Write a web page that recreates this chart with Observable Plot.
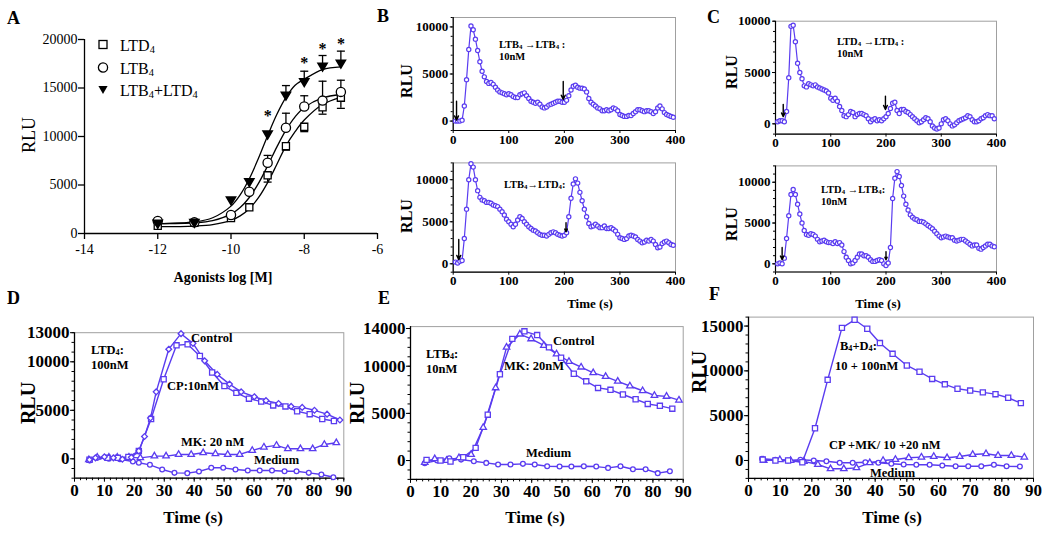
<!DOCTYPE html>
<html><head><meta charset="utf-8">
<script src="https://cdn.jsdelivr.net/npm/d3@7"></script>
<script src="https://cdn.jsdelivr.net/npm/@observablehq/plot@0.6"></script>
<style>
body{margin:0;background:#fff;}
#root{position:relative;width:1050px;height:533px;overflow:hidden;background:#fff;}
.lbl{position:absolute;white-space:nowrap;line-height:1;color:#000;}
.lbl sub{font-size:65%;vertical-align:-0.2em;line-height:0;}
</style></head><body><div id="root"></div>
<script>
// ---------- Panel A data ----------
const doseX = [-12, -11, -10, -9.5, -9, -8.5, -8, -7.5, -7];
const ltd4 = [800, 1100, 1600, 2700, 6000, 9000, 11000, 13000, 14000];
const ltd4ErrDown = [0, 0, 0, 0, 700, 400, 500, 700, 1100];
const ltb4 = [1300, 1150, 1900, 4300, 7300, 10900, 13100, 13700, 14600];
const ltb4ErrUp = [0, 0, 0, 0, 750, 1500, 1100, 2000, 1200];
const combo = [1000, 1100, 3400, 5300, 10200, 14200, 15600, 17200, 17500];
const comboErrUp = [0, 0, 0, 0, 0, 1050, 1130, 1150, 1300];
const fitX = [-12, -11, -10.5, -10, -9.75, -9.5, -9.25, -9, -8.75, -8.5, -8.25, -8, -7.5, -7];
const fitLTD4 = [707, 768, 912, 1349, 1813, 2560, 3689, 5241, 7109, 9038, 10500, 11700, 13300, 14033];
const fitLTB4 = [1011, 1106, 1331, 1993, 2671, 3711, 5168, 6976, 8904, 10657, 12029, 12990, 13983, 14332];
const fitCombo = [1020, 1203, 1624, 2823, 3980, 5644, 7755, 10086, 12265, 14030, 15285, 15900, 16900, 17172];
const starX = [-9, -8, -7.5, -7];
const starY = [12600, 18100, 19600, 20100];
const aXTicks = [-14, -12, -10, -8, -6];
const aYTicks = [0, 5000, 10000, 15000, 20000];

// ---------- Panels B, C (time traces) ----------
const traceTime = [4,8,12,16,20,24,28,32,36,40,44,48,52,56,60,64,68,72,76,80,84,88,92,96,100,104,108,112,116,120,124,128,132,136,140,144,148,152,156,160,164,168,172,176,180,184,188,192,196,200,204,208,212,216,220,224,228,232,236,240,244,248,252,256,260,264,268,272,276,280,284,288,292,296,300,304,308,312,316,320,324,328,332,336,340,344,348,352,356,360,364,368,372,376,380,384,388,392,396];
const bTopRLU = [0,0,0,100,1600,4400,7600,10100,9700,8700,7500,6300,5300,4700,4200,4000,4100,3900,3600,3300,3100,3000,2900,2800,2900,2800,2600,2500,2500,2800,2900,3000,2700,2400,2100,2000,1900,2000,1800,1500,1400,1500,1700,1800,1900,2000,2100,2100,2000,2000,2200,2700,3300,3700,3800,3600,3500,3500,3400,3100,2400,2000,1800,1600,1400,1300,1100,1100,1200,1100,1200,1400,1300,1100,700,600,500,500,600,600,800,1000,1200,1200,1100,1000,1100,1100,1000,800,1000,1400,1600,1300,900,700,600,500,400];
const bBotRLU = [200,100,300,400,3000,6500,10000,11900,11500,10000,8700,7900,7600,7500,7300,7300,7200,7000,6900,6800,6500,6200,5800,5300,5000,4700,4400,4700,5200,5600,5400,5000,4700,4400,4200,4000,3900,3700,3500,3400,3400,3300,3500,3700,3800,3700,3500,3400,3300,3400,3700,5600,7800,9500,10100,9600,8500,7500,6500,5600,4800,4400,4500,4700,4500,4300,4300,4500,4200,4200,4300,4100,3900,3500,3100,3000,2900,3000,3300,3400,3300,3200,2900,2700,2500,2600,2800,2700,2900,2700,2300,1900,2000,2400,2600,2700,2500,2300,2200];
const cTopRLU = [200,300,300,200,1200,4500,9500,9600,8000,5900,5000,4400,3700,3600,3900,3800,3700,3800,3600,3500,3400,3300,3200,3000,2500,2300,2500,2200,1700,1300,800,700,900,1200,1100,700,900,1000,1000,900,800,500,200,400,500,300,400,300,500,700,1000,1500,2000,2100,1300,1000,1400,1400,1200,1100,900,700,500,300,100,200,400,600,500,200,-200,-400,-500,-400,0,400,500,300,0,-200,-100,100,300,400,500,600,800,700,400,200,200,300,500,600,800,900,800,800,500];
const cBotRLU = [0,100,0,700,3100,5900,8500,9100,8500,7300,6100,5000,4100,3600,3500,3700,3600,3400,3000,2700,2800,2900,2700,2600,2600,2500,2700,2500,2600,2300,1500,800,400,0,100,400,800,1200,1200,1000,1000,800,500,300,300,400,500,400,0,-200,100,2000,8000,10500,11300,10700,9600,8300,7300,6600,6000,5700,5500,5400,5200,5200,5100,4900,4700,4500,4300,4000,3700,3400,3200,3300,3400,3300,3200,3200,2900,2800,2900,3000,3000,2800,2600,2400,2200,2300,2300,1900,1800,2000,2200,2400,2400,2200,2100];
const bTopArrows = [{t: 6, from: 2100, to: 100}, {t: 198, from: 4200, to: 2300}];
const bBotArrows = [{t: 10, from: 2900, to: 500}, {t: 203, from: 4900, to: 3800}];
const cTopArrows = [{t: 14, from: 1900, to: 700}, {t: 199, from: 2700, to: 1400}];
const cBotArrows = [{t: 12, from: 2000, to: 500}, {t: 200, from: 1500, to: 500}];
const traceXTicks = [0, 100, 200, 300, 400];
const traceYTicks = [0, 5000, 10000];

// ---------- Panels D, E, F ----------
const dCtrlT = [5, 7, 10, 13, 16, 19, 21.5, 23.4, 25.4, 27.3, 31.5, 35.6, 39.6, 43.5, 47.7, 51.8, 55.7, 60.1, 64, 68.2, 72.4, 76.1, 80.2, 84.4, 88.7];
const dCtrlV = [-100, 100, 200, 100, -50, 150, 800, 2300, 4200, 6900, 11300, 12900, 11900, 10100, 8700, 7700, 6900, 6400, 6000, 5700, 5400, 5300, 5000, 4600, 4000];
const dCpT = [5, 11, 14.5, 18, 21.5, 25.6, 29.8, 34.1, 37.8, 41.9, 46, 50.1, 54.1, 58.3, 62.4, 66.4, 70.5, 74.4, 78.6, 82.8, 86.7];
const dCpV = [-100, 100, 100, 200, 800, 4100, 8200, 11700, 11800, 10600, 8900, 7500, 6800, 6200, 5900, 5500, 5400, 4900, 4600, 4100, 3900];
const dMkT = [4.8, 7.6, 11.5, 14.3, 18.2, 22, 26.7, 30.6, 34.8, 39, 43, 47.1, 51.2, 55.2, 59.4, 63.3, 67.5, 71.3, 75.5, 79.6, 83.5, 87.5];
const dMkV = [-100, 150, 150, 150, 150, 100, 280, 280, 450, 450, 620, 520, 450, 450, 860, 1200, 1380, 1030, 1030, 1030, 1480, 1650];
const dMedT = [5.1, 7.6, 11.5, 15.2, 19.5, 21.5, 25.2, 29.3, 33.4, 37.7, 41.6, 45.7, 49.7, 53.8, 57.9, 61.9, 66, 70.2, 74.2, 78.3, 82.5, 86.5];
const dMedV = [-170, 100, 0, -50, -280, -410, -620, -1100, -1450, -1480, -1310, -930, -930, -1100, -1200, -1200, -1200, -1280, -1280, -1450, -1620, -1900];

const eCtrlT = [5.3, 9.9, 13.2, 17.4, 21.5, 25.5, 29.5, 33.6, 37.6, 41.8, 45.7, 49.7, 53.9, 58, 61.9, 66, 70.1, 74.3, 78.3, 82.3, 86.4];
const eCtrlV = [70, 0, -100, 350, 1340, 4860, 9150, 12900, 13700, 13300, 12000, 10900, 9200, 8400, 7700, 7500, 7000, 6500, 6000, 5800, 5500];
const eMkT = [4.7, 8, 11.9, 16, 20, 24, 28.1, 31.7, 36.1, 39.8, 44, 48.2, 52.3, 56.3, 60.3, 64.4, 68.4, 72.4, 76.6, 80.5, 84.5, 88.6];
const eMkV = [-200, 180, 0, 300, 630, 3500, 7700, 12000, 13400, 12900, 12200, 11300, 10500, 9900, 9300, 8900, 8400, 7900, 7400, 6900, 6800, 6400];
const eMedT = [4.7, 8.8, 12.8, 16.7, 20.9, 25, 28.9, 33, 37.1, 41, 45.1, 49.2, 53.1, 57.2, 61.3, 65.2, 69.3, 73.4, 77.6, 81.6, 85.6];
const eMedV = [-280, 0, 250, 100, -70, -250, -420, -420, -350, -420, -600, -640, -640, -600, -640, -780, -600, -920, -920, -1340, -1130];

const fMixT = [4.5, 8.5, 12.5, 17, 21, 25, 29.5, 33.5, 37.5, 41.5, 45.5, 50, 54, 58, 62, 66, 70, 74, 78, 82, 86];
const fMixV = [100, 0, 0, -200, 3600, 9000, 14800, 15700, 14700, 13100, 11900, 10600, 9900, 9100, 8500, 8000, 7800, 7600, 7400, 7000, 6400];
const fCpMkT = [4.8, 9.9, 13.3, 17.5, 21.9, 25.9, 30.1, 34.1, 38.3, 42.5, 46.4, 50.6, 54.6, 58.5, 62.7, 66.7, 70.8, 75, 78.8, 83, 87.1];
const fCpMkV = [0, 80, 0, -100, -450, -930, -930, -820, -260, 0, 110, 300, 370, 450, 300, 450, 670, 750, 560, 560, 370];
const fMedT = [4.3, 8.5, 12.4, 16.4, 20.6, 24.6, 28.8, 32.9, 36.9, 41, 45.1, 49, 53, 57.2, 61.2, 65.4, 69.4, 73.5, 77.5, 81.5, 85.7];
const fMedV = [190, 80, 0, 80, 0, -80, -260, -260, -190, -260, -370, -450, -480, -480, -560, -640, -640, -640, -480, -640, -670];
const timeXTicks = [0, 10, 20, 30, 40, 50, 60, 70, 80, 90];
const dYTicks = [0, 5000, 10000, 13000];
const eYTicks = [0, 5000, 10000, 14000];
const fYTicks = [0, 5000, 10000, 15000];

// ---------- helpers ----------
const FONT = "'Liberation Serif','Times New Roman',Times,serif";
const BLUE = "#5a3cf0";
const fmt = d => String(d);
const root = document.getElementById("root");
const zip = (xs, ys) => xs.map((x, i) => ({x, y: ys[i]})).filter(d => d.y != null);

function place(el, left, top) {
  el.style.position = "absolute"; el.style.left = left + "px"; el.style.top = top + "px";
  el.style.overflow = "visible"; root.appendChild(el);
}
function label(html, x, y, o = {}) {
  const {size = 13, weight = "bold", anchor = "start", rotate = false} = o;
  const d = document.createElement("div");
  d.className = "lbl"; d.innerHTML = html;
  d.style.left = x + "px"; d.style.top = y + "px";
  d.style.fontSize = size + "px"; d.style.fontWeight = weight; d.style.fontFamily = FONT;
  const tx = rotate ? "-50%" : anchor === "middle" ? "-50%" : anchor === "end" ? "-100%" : "0";
  d.style.transform = `translate(${tx},-50%)` + (rotate ? " rotate(-90deg)" : "");
  root.appendChild(d);
}
const triDown = {draw(ctx, size) { const r = Math.sqrt(size / Math.PI); ctx.moveTo(-r, -r * 0.75); ctx.lineTo(r, -r * 0.75); ctx.lineTo(0, r * 0.95); ctx.closePath(); }};
const cap = {draw(ctx, size) { const r = Math.sqrt(size / Math.PI); ctx.moveTo(-r, 0); ctx.lineTo(r, 0); }};
const baseStyle = (size) => ({fontFamily: FONT, fontSize: size + "px", fontWeight: "bold", background: "transparent", color: "#000", overflow: "visible"});

// ---------- Panel A ----------
{
  const sq = zip(doseX, ltd4), ci = zip(doseX, ltb4), tr = zip(doseX, combo);
  const errs = [
    ...doseX.map((x, i) => ({x, y: ltd4[i], end: ltd4[i] - ltd4ErrDown[i], e: ltd4ErrDown[i]})),
    ...doseX.map((x, i) => ({x, y: ltb4[i], end: ltb4[i] + ltb4ErrUp[i], e: ltb4ErrUp[i]})),
    ...doseX.map((x, i) => ({x, y: combo[i], end: combo[i] + comboErrUp[i], e: comboErrUp[i]}))
  ].filter(d => d.e > 0);
  const lineOpts = {x: "x", y: "y", stroke: "#000", strokeWidth: 1.3, curve: "catmull-rom"};
  const svg = Plot.plot({
    width: 390, height: 290, marginLeft: 84, marginRight: 13, marginTop: 39, marginBottom: 57,
    x: {domain: [-14, -6], axis: null}, y: {domain: [0, 20000], axis: null},
    style: {...baseStyle(14), fontWeight: "normal"},
    marks: [
      Plot.ruleX([-14], {stroke: "#000", strokeWidth: 1.3}),
      Plot.ruleY([0], {stroke: "#000", strokeWidth: 1.3}),
      Plot.axisY(aYTicks, {label: null, tickSize: 6, tickPadding: 1, tickFormat: fmt, fontSize: 14, fontWeight: "normal", strokeWidth: 1.3}),
      Plot.axisX(aXTicks, {label: null, tickSize: 6, tickPadding: 5, tickFormat: fmt, fontSize: 14, fontWeight: "normal", strokeWidth: 1.3}),
      Plot.ruleX(errs, {x: "x", y1: "y", y2: "end", stroke: "#000", strokeWidth: 1.3}),
      Plot.dot(errs, {x: "x", y: "end", symbol: cap, r: 4, stroke: "#000", fill: "none", strokeWidth: 1.3}),
      Plot.line(zip(fitX, fitLTD4), lineOpts),
      Plot.line(zip(fitX, fitLTB4), lineOpts),
      Plot.line(zip(fitX, fitCombo), lineOpts),
      Plot.dot(sq, {x: "x", y: "y", symbol: "square", r: 4, stroke: "#000", fill: "white", strokeWidth: 1.3}),
      Plot.dot(ci, {x: "x", y: "y", symbol: "circle", r: 4.6, stroke: "#000", fill: "white", strokeWidth: 1.3}),
      Plot.dot(tr, {x: "x", y: "y", symbol: triDown, r: 4.6, fill: "#000", stroke: "#000"}),
      Plot.text(zip(starX, starY), {x: "x", y: "y", text: () => "*", fontSize: 16, fontWeight: "bold", dy: 5, fill: "#000"})
    ]
  });
  place(svg, 0, 0);
  // legend
  const icons = [
    '<svg width="14" height="14"><rect x="3" y="3" width="8" height="8" fill="white" stroke="black" stroke-width="1.3"/></svg>',
    '<svg width="14" height="14"><circle cx="7" cy="7" r="4.6" fill="white" stroke="black" stroke-width="1.3"/></svg>',
    '<svg width="14" height="14"><path d="M2.4,3.5L11.6,3.5L7,11.4Z" fill="black"/></svg>'
  ];
  const names = ["LTD<sub>4</sub>", "LTB<sub>4</sub>", "LTB<sub>4</sub>+LTD<sub>4</sub>"];
  const rowsY = [46, 69, 91];
  icons.forEach((ic, i) => {
    label(ic, 96, rowsY[i], {size: 14});
    label(names[i], 120, rowsY[i], {size: 16, weight: "normal"});
  });
  label("A", 7, 18, {size: 18});
  label("RLU", 29, 135, {size: 18, weight: "normal", rotate: true});
  label("Agonists log [M]", 223, 278, {size: 14, anchor: "middle"});
}

// ---------- Panels B, C ----------
function tracePanel(values, arrows, yDomain, box) {
  const data = traceTime.map((t, i) => ({t, v: values[i]})).filter(d => d.v != null);
  const svg = Plot.plot({
    width: box.w, height: box.h, marginLeft: box.ml, marginRight: box.mr, marginTop: box.mt, marginBottom: box.mb,
    x: {domain: [0, 400], axis: null}, y: {domain: yDomain, axis: null},
    style: baseStyle(13),
    marks: [
      Plot.frame({stroke: "#a0a0a0", strokeWidth: 1}),
      Plot.axisY(d3.range(yDomain[0], yDomain[1] + 1, 1000), {label: null, tickSize: 2, tickFormat: () => ""}),
      Plot.axisY(traceYTicks, {label: null, tickSize: 3, tickPadding: 2, tickFormat: fmt, fontSize: 13, fontWeight: "bold"}),
      Plot.axisX(traceXTicks, {label: null, tickSize: 3, tickPadding: 1, tickFormat: fmt, fontSize: 13, fontWeight: "bold"}),
      Plot.ruleX([0], {stroke: "#000", strokeWidth: 1.2}),
      Plot.ruleY([yDomain[0]], {stroke: "#000", strokeWidth: 1.2}),
      Plot.line(data, {x: "t", y: "v", stroke: BLUE, strokeWidth: 1.2}),
      Plot.dot(data, {x: "t", y: "v", r: 2.1, stroke: BLUE, strokeWidth: 1.2, fill: "white"}),
      Plot.arrow(arrows, {x1: "t", x2: "t", y1: "from", y2: "to", stroke: "#000", strokeWidth: 1.4, headLength: 5, headAngle: 50})
    ]
  });
  place(svg, box.left, box.top);
}
tracePanel(bTopRLU, bTopArrows, [-1000, 11000], {left: 360, top: 0, w: 330, h: 150, ml: 92.7, mr: 15, mt: 17, mb: 20});
tracePanel(bBotRLU, bBotArrows, [-1000, 12000], {left: 360, top: 150, w: 330, h: 160, ml: 92.7, mr: 15, mt: 12.4, mb: 38.3});
tracePanel(cTopRLU, cTopArrows, [-1000, 10000], {left: 700, top: 0, w: 350, h: 150, ml: 75, mr: 54, mt: 20.7, mb: 16.4});
tracePanel(cBotRLU, cBotArrows, [-1000, 12000], {left: 700, top: 150, w: 350, h: 160, ml: 75, mr: 54, mt: 15.4, mb: 38.5});

label("B", 377, 16, {size: 18});
label("C", 707, 17, {size: 18});
label("RLU", 407, 81, {size: 16, rotate: true});
label("RLU", 407, 216, {size: 16, rotate: true});
label("RLU", 732, 72, {size: 16, rotate: true});
label("RLU", 732, 224, {size: 16, rotate: true});
label("Time (s)", 590, 303, {size: 13, anchor: "middle"});
label("Time (s)", 878, 303, {size: 13, anchor: "middle"});
label("LTB<sub>4</sub> →LTB<sub>4</sub> :", 499, 45, {size: 10.5});
label("10nM", 499, 57, {size: 10.5});
label("LTB<sub>4</sub>→LTD<sub>4</sub>:", 504, 185, {size: 10.5});
label("LTD<sub>4</sub> →LTD<sub>4</sub> :", 837, 42, {size: 10.5});
label("10nM", 837, 54, {size: 10.5});
label("LTD<sub>4</sub> →LTB<sub>4</sub>:", 821, 190, {size: 10.5});
label("10nM", 821, 202, {size: 10.5});

// ---------- Panels D, E, F ----------
function timePanel(series, yDomain, yTicks, box) {
  const marks = [
    Plot.frame({stroke: "#a0a0a0", strokeWidth: 1}),
    Plot.axisY(d3.range(yDomain[0], yDomain[1] + 1, 1000), {label: null, tickSize: 2.5, tickFormat: () => ""}),
    Plot.axisX(d3.range(0, 91, 2), {label: null, tickSize: 2.5, tickFormat: () => ""}),
    Plot.axisY(yTicks, {label: null, tickSize: 4, tickPadding: 1, tickFormat: fmt, fontSize: 17, fontWeight: "bold"}),
    Plot.axisX(timeXTicks, {label: null, tickSize: 4, tickPadding: 2, tickFormat: fmt, fontSize: 17, fontWeight: "bold"}),
    Plot.ruleX([0], {stroke: "#000", strokeWidth: 1.3}),
    Plot.ruleY([yDomain[0]], {stroke: "#000", strokeWidth: 1.3})
  ];
  for (const s of series) {
    marks.push(Plot.line(zip(s.t, s.v), {x: "x", y: "y", stroke: BLUE, strokeWidth: 1.4}));
  }
  for (const s of series) {
    marks.push(Plot.dot(zip(s.t, s.v), {x: "x", y: "y", symbol: s.symbol, r: s.r, stroke: BLUE, strokeWidth: 1.3, fill: "white"}));
  }
  const svg = Plot.plot({
    width: box.w, height: box.h, marginLeft: box.ml, marginRight: box.mr, marginTop: box.mt, marginBottom: box.mb,
    x: {domain: [0, 90], axis: null}, y: {domain: yDomain, axis: null},
    style: baseStyle(17),
    marks
  });
  place(svg, box.left, box.top);
}
timePanel([
  {t: dMedT, v: dMedV, symbol: "circle", r: 2.4},
  {t: dMkT, v: dMkV, symbol: "triangle", r: 2.4},
  {t: dCpT, v: dCpV, symbol: "square", r: 2.9},
  {t: dCtrlT, v: dCtrlV, symbol: "diamond2", r: 2.6}
], [-2000, 13000], dYTicks, {left: 0, top: 290, w: 350, h: 243, ml: 74, mr: 6.7, mt: 42.2, mb: 55.3});
timePanel([
  {t: eMedT, v: eMedV, symbol: "circle", r: 2.4},
  {t: eMkT, v: eMkV, symbol: "triangle", r: 2.4},
  {t: eCtrlT, v: eCtrlV, symbol: "square", r: 2.9}
], [-2000, 14200], eYTicks, {left: 350, top: 290, w: 350, h: 243, ml: 60, mr: 17.3, mt: 36.1, mb: 54.1});
timePanel([
  {t: fMedT, v: fMedV, symbol: "circle", r: 2.4},
  {t: fCpMkT, v: fCpMkV, symbol: "triangle", r: 2.4},
  {t: fMixT, v: fMixV, symbol: "square", r: 2.9}
], [-2000, 16000], fYTicks, {left: 700, top: 290, w: 350, h: 243, ml: 48, mr: 17, mt: 26.6, mb: 55.1});

label("D", 7, 298, {size: 18});
label("E", 378, 298, {size: 18});
label("F", 709, 294, {size: 18});
label("RLU", 28, 403, {size: 20, rotate: true});
label("RLU", 357, 403, {size: 20, rotate: true});
label("RLU", 699, 372, {size: 20, rotate: true});
label("Time (s)", 193, 517, {size: 17, anchor: "middle"});
label("Time (s)", 535, 517, {size: 17, anchor: "middle"});
label("Time (s)", 892, 517, {size: 17, anchor: "middle"});
// D annotations
label("Control", 191, 338, {size: 12.5});
label("LTD<sub>4</sub>:", 91, 350, {size: 12.5});
label("100nM", 91, 365, {size: 12.5});
label("CP:10nM", 167, 386, {size: 12.5});
label("MK: 20 nM", 181, 442, {size: 12.5});
label("Medium", 254, 460, {size: 12.5});
// E annotations
label("Control", 553, 341, {size: 12.5});
label("LTB<sub>4</sub>:", 426, 354, {size: 12.5});
label("10nM", 426, 369, {size: 12.5});
label("MK: 20nM", 504, 366, {size: 12.5});
label("Medium", 526, 453, {size: 12.5});
// F annotations
label("B<sub>4</sub>+D<sub>4</sub>:", 840, 346, {size: 12.5});
label("10 + 100nM", 835, 366, {size: 12.5});
label("CP +MK/ 10 +20 nM", 829, 445, {size: 12.5});
label("Medium", 870, 473, {size: 12.5});
</script></body></html>
